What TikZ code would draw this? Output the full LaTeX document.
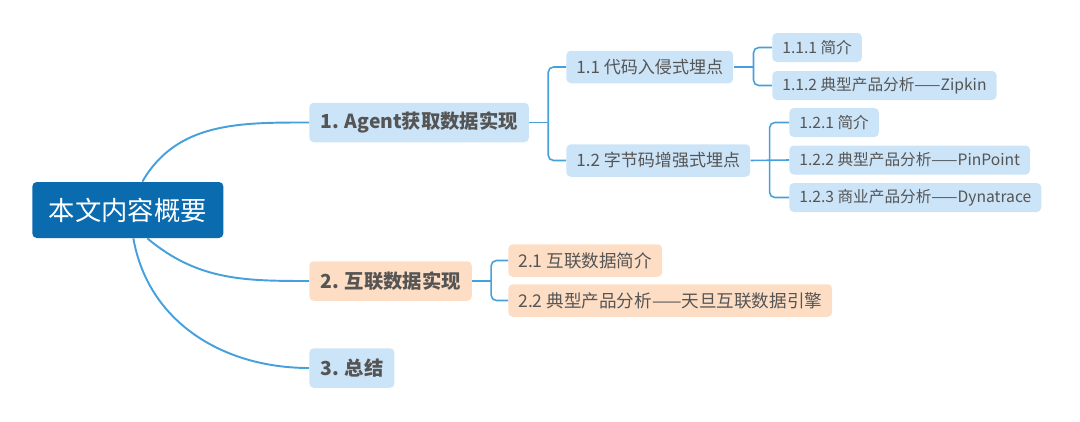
\documentclass[tikz,border=0pt]{standalone}
\usepackage{fontspec}
\setmainfont{Noto Sans CJK SC}
\usetikzlibrary{positioning}

\definecolor{rootblue}{HTML}{0B6BAF}
\definecolor{lightblue}{HTML}{CCE4F8}
\definecolor{peach}{HTML}{FDDEC4}
\definecolor{linkblue}{HTML}{45A0DB}
\definecolor{textgray}{HTML}{555555}

\tikzset{
  box/.style={rounded corners=2.5pt, anchor=west, text=textgray, inner ysep=0pt},
  rootbox/.style={box, fill=rootblue, text=white, minimum width=3.82cm, minimum height=1.12cm,
    font=\fontsize{15pt}{18pt}\selectfont},
  mainbox/.style={box, fill=lightblue, minimum height=0.79cm, inner xsep=0.22cm,
    font=\fontsize{11pt}{13pt}\selectfont\bfseries},
  subbox/.style={box, fill=lightblue, minimum height=0.65cm, inner xsep=0.2cm,
    font=\fontsize{9.7pt}{12pt}\selectfont},
  leafbox/.style={box, fill=lightblue, minimum height=0.58cm, inner xsep=0.2cm,
    font=\fontsize{8.9pt}{10pt}\selectfont},
  peachmain/.style={mainbox, fill=peach},
  peachsub/.style={subbox, fill=peach, font=\fontsize{10pt}{12pt}\selectfont},
  link/.style={draw=linkblue, line width=1.1pt},
  elbow/.style={draw=linkblue, line width=0.9pt, rounded corners=3pt}
}

\begin{document}
\begin{tikzpicture}
  \useasboundingbox (0,0) rectangle (21.6,8.42);

  % root and first level
  \node[rootbox] (root) at (0.64,4.22) {本文内容概要};
  \node[mainbox] (agent) at (6.18,5.97) {1. Agent获取数据实现};
  \node[peachmain] (hulian) at (6.18,2.80) {2. 互联数据实现};
  \node[mainbox] (zongjie) at (6.18,1.06) {3. 总结};

  % second level
  \node[subbox] (daima) at (11.32,7.08) {1.1 代码入侵式埋点};
  \node[subbox] (zijie) at (11.32,5.21) {1.2 字节码增强式埋点};
  \node[peachsub] (hljianjie) at (10.16,3.21) {2.1 互联数据简介};
  \node[peachsub] (hlfenxi) at (10.16,2.41) {2.2 典型产品分析——天旦互联数据引擎};

  % third level
  \node[leafbox] (dmjianjie) at (15.44,7.47) {1.1.1 简介};
  \node[leafbox] (zipkin) at (15.44,6.71) {1.1.2 典型产品分析——Zipkin};
  \node[leafbox] (zjjianjie) at (15.78,5.97) {1.2.1 简介};
  \node[leafbox] (pinpoint) at (15.78,5.22) {1.2.2 典型产品分析——PinPoint};
  \node[leafbox] (dynatrace) at (15.78,4.47) {1.2.3 商业产品分析——Dynatrace};

  % curves from the root
  \draw[link] ([xshift=0.29cm]root.north) to[out=60,in=180] (agent.west);
  \draw[link] ([xshift=0.39cm]root.south) to[out=-40,in=180] (hulian.west);
  \draw[link] ([xshift=0.11cm]root.south) to[out=-80,in=180] (zongjie.west);

  % brackets
  \coordinate (j1) at ([xshift=0.38cm]agent.east);
  \draw[elbow] (agent.east) -- (j1);
  \draw[elbow] (j1) |- (daima.west);
  \draw[elbow] (j1) |- (zijie.west);

  \coordinate (j11) at ([xshift=0.4cm]daima.east);
  \draw[elbow] (daima.east) -- (j11);
  \draw[elbow] (j11) |- (dmjianjie.west);
  \draw[elbow] (j11) |- (zipkin.west);

  \coordinate (j12) at ([xshift=0.38cm]zijie.east);
  \draw[elbow] (zijie.east) -- (pinpoint.west);
  \draw[elbow] (j12) |- (zjjianjie.west);
  \draw[elbow] (j12) |- (dynatrace.west);

  \coordinate (j2) at ([xshift=0.38cm]hulian.east);
  \draw[elbow] (hulian.east) -- (j2);
  \draw[elbow] (j2) |- (hljianjie.west);
  \draw[elbow] (j2) |- (hlfenxi.west);
\end{tikzpicture}
\end{document}
